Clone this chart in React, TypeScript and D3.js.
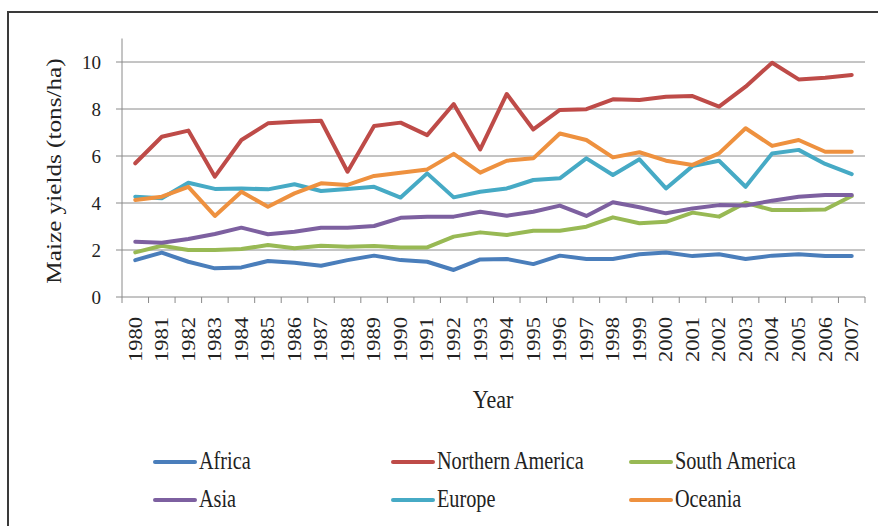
import React from 'react'
import * as d3 from 'd3'

const years = d3.range(1980, 2008).map(String)
const yTicks = [0, 2, 4, 6, 8, 10]

const africa = [1.57, 1.89, 1.5, 1.22, 1.26, 1.53, 1.46, 1.33, 1.57, 1.76, 1.57, 1.5, 1.15, 1.6, 1.62, 1.4, 1.76, 1.62, 1.62, 1.82, 1.89, 1.74, 1.82, 1.62, 1.76, 1.82, 1.74, 1.74]
const northernAmerica = [5.69, 6.82, 7.08, 5.12, 6.68, 7.39, 7.46, 7.5, 5.33, 7.28, 7.42, 6.89, 8.21, 6.28, 8.64, 7.13, 7.96, 7.99, 8.41, 8.38, 8.52, 8.55, 8.1, 8.95, 9.97, 9.26, 9.33, 9.45]
const southAmerica = [1.9, 2.18, 2.0, 2.0, 2.04, 2.21, 2.07, 2.18, 2.14, 2.17, 2.11, 2.11, 2.57, 2.75, 2.64, 2.82, 2.82, 2.99, 3.39, 3.14, 3.2, 3.59, 3.42, 4.01, 3.7, 3.7, 3.72, 4.3]
const asia = [2.35, 2.31, 2.47, 2.68, 2.95, 2.67, 2.78, 2.95, 2.95, 3.02, 3.37, 3.42, 3.42, 3.63, 3.46, 3.63, 3.89, 3.45, 4.03, 3.82, 3.56, 3.77, 3.91, 3.89, 4.1, 4.27, 4.34, 4.34]
const europe = [4.27, 4.2, 4.86, 4.6, 4.62, 4.58, 4.8, 4.51, 4.6, 4.69, 4.23, 5.26, 4.24, 4.48, 4.62, 4.98, 5.05, 5.9, 5.19, 5.86, 4.62, 5.57, 5.8, 4.69, 6.11, 6.26, 5.66, 5.23]
const oceania = [4.13, 4.27, 4.69, 3.45, 4.48, 3.84, 4.41, 4.84, 4.77, 5.15, 5.29, 5.43, 6.09, 5.29, 5.8, 5.9, 6.96, 6.68, 5.94, 6.16, 5.8, 5.62, 6.11, 7.18, 6.43, 6.68, 6.18, 6.18]

const series = [
  {name: 'Africa', values: africa, color: '#4a7ebb'},
  {name: 'Northern America', values: northernAmerica, color: '#be4b48'},
  {name: 'South America', values: southAmerica, color: '#98b954'},
  {name: 'Asia', values: asia, color: '#7d60a0'},
  {name: 'Europe', values: europe, color: '#46aac5'},
  {name: 'Oceania', values: oceania, color: '#ee913f'},
]
// order the lines are painted in (bottom first)
const drawOrder = ['Africa', 'South America', 'Asia', 'Europe', 'Oceania', 'Northern America']

const W = 878, H = 526
const serif = {fontFamily: "'Liberation Serif', 'Times New Roman', Times, serif"}

export default function App() {
  const x = d3.scaleBand().domain(years).range([122, 865]).padding(0)
  const y = d3.scaleLinear().domain([0, 11]).range([297, 38.5])
  const cx = (yr: string) => (x(yr) as number) + x.bandwidth() / 2

  const line = d3.line<number>()
    .x((d, i) => cx(years[i]))
    .y(d => y(d))

  const tickXs = years.map(yr => x(yr) as number).concat([865])

  return (
    <svg width={W} height={H} style={{position: 'absolute', left: 0, top: 0, background: '#fff'}}>
      <rect x={8} y={12} width={W + 10} height={H + 10} fill="#fff" stroke="#3a3a3a" strokeWidth={2} />

      {/* grid */}
      {yTicks.filter(t => t > 0).map(t => (
        <line key={t} x1={122} x2={865} y1={y(t)} y2={y(t)} stroke="#8a8a8a" strokeWidth={1} />
      ))}

      {/* y axis */}
      <line x1={122} x2={122} y1={y(11)} y2={y(0)} stroke="#8a8a8a" />
      {yTicks.map(t => (
        <g key={t}>
          <line x1={116} x2={122} y1={y(t)} y2={y(t)} stroke="#8a8a8a" />
          <text x={101} y={y(t)} dy="0.35em" textAnchor="end" fontSize={19} fill="#222" style={serif}>{t}</text>
        </g>
      ))}

      {/* x axis */}
      <line x1={122} x2={865} y1={y(0)} y2={y(0)} stroke="#8a8a8a" />
      {tickXs.map((tx, i) => (
        <line key={i} x1={tx} x2={tx} y1={y(0)} y2={y(0) + 6} stroke="#8a8a8a" />
      ))}
      {years.map(yr => (
        <text key={yr} transform={`translate(${cx(yr)},317) rotate(-90) scale(1.25,1)`}
          textAnchor="end" dy="0.35em" fontSize={18} fill="#222" style={serif}>{yr}</text>
      ))}

      <text transform="translate(493,408) scale(1,1.15)" textAnchor="middle" fontSize={22} fill="#222" style={serif}>Year</text>
      <text transform="translate(61,171) rotate(-90) scale(1.2,1)" textAnchor="middle" fontSize={21} fill="#222" style={serif}>Maize yields (tons/ha)</text>

      {/* lines */}
      {drawOrder.map(n => {
        const s = series.find(d => d.name === n)!
        return (
          <path key={n} d={line(s.values) || ''} fill="none" stroke={s.color} strokeWidth={4}
            strokeLinejoin="round" strokeLinecap="round" />
        )
      })}

      {/* legend */}
      {series.map((s, i) => {
        const col = i % 3, row = Math.floor(i / 3)
        const lx = 155 + col * 238
        const ly = 462 + row * 38
        return (
          <g key={s.name}>
            <line x1={lx} x2={lx + 40} y1={ly} y2={ly} stroke={s.color} strokeWidth={4} strokeLinecap="round" />
            <text transform={`translate(${lx + 44},${ly + 7}) scale(0.92,1.15)`} fontSize={22} fill="#222" style={serif}>{s.name}</text>
          </g>
        )
      })}
    </svg>
  )
}
